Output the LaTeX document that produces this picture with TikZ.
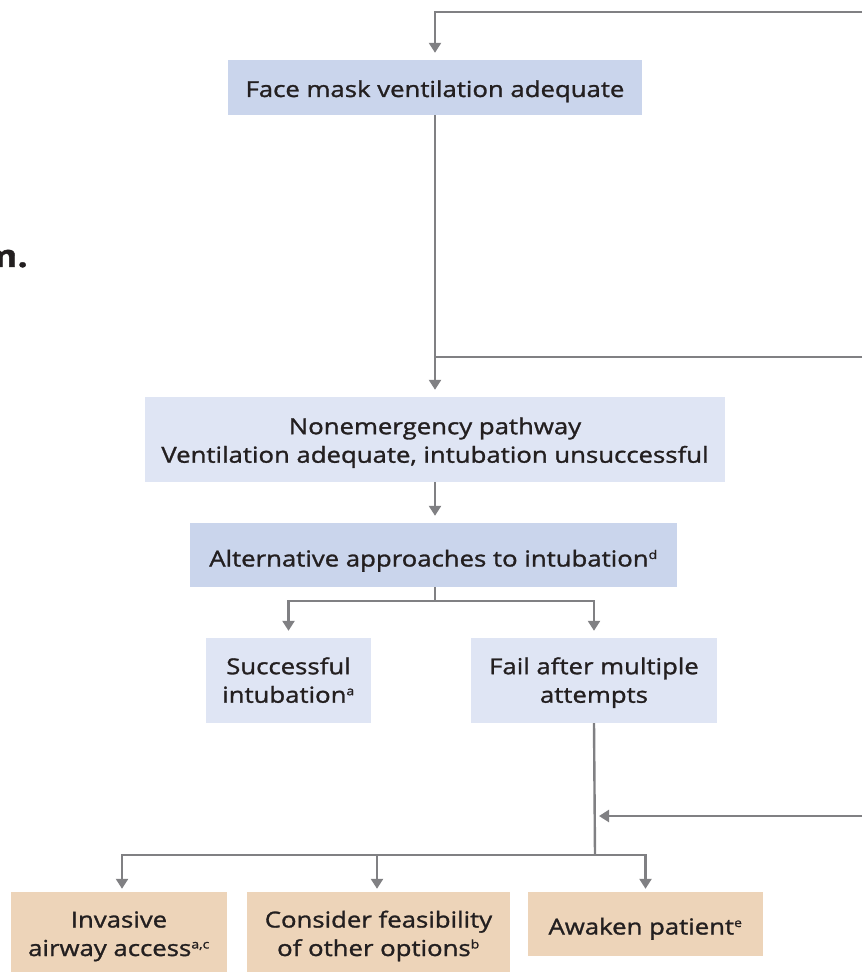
\documentclass[tikz,border=0pt]{standalone}
\usepackage{fontspec}
\setmainfont{Open Sans}[FakeStretch=1.17,FakeBold=1.3]
\usetikzlibrary{arrows.meta}
\definecolor{blueA}{HTML}{CAD5EC}
\definecolor{blueB}{HTML}{DFE5F4}
\definecolor{tanA}{HTML}{EDD4B9}
\definecolor{lineG}{HTML}{808083}
\definecolor{txt}{HTML}{231F20}
\tikzset{
  x=1pt, y=-1pt,
  box/.style={inner sep=0pt, align=center, text=txt,
    font=\fontsize{22}{28.5}\selectfont},
  bdark/.style={box, fill=blueA},
  blight/.style={box, fill=blueB},
  btan/.style={box, fill=tanA},
  conn/.style={draw=lineG, line width=2.4pt},
  arr/.style={conn, -{Triangle[width=12pt,length=10pt]}, shorten >=7pt},
}
\newcommand{\sps}[1]{\textsuperscript{\fontsize{12}{12}\selectfont #1}}
\begin{document}
\begin{tikzpicture}
\useasboundingbox (0,0) rectangle (862,973);
% cropped title fragment
\node[anchor=base east, inner sep=0pt, text=txt, font=\fontsize{31}{31}\selectfont\bfseries] (ttl) at (28,267) {m.};

% boxes
\node[bdark, minimum width=414pt, minimum height=55pt, text height=19pt, text depth=0pt] (b1) at (435,87.5) {Face mask ventilation adequate};
\node[blight, minimum width=580pt, minimum height=85pt, text height=46.4pt, text depth=0pt] (b2) at (435,439.5) {Nonemergency pathway\\Ventilation adequate, intubation unsuccessful};
\node[bdark, minimum width=487pt, minimum height=64pt, text height=23pt, text depth=0pt] (b3) at (433.5,555) {Alternative approaches to intubation\sps{d}};
\node[blight, minimum width=165pt, minimum height=85pt, text height=44.4pt, text depth=0pt] (b4) at (288.5,680.5) {Successful\\intubation\sps{a}};
\node[blight, minimum width=246pt, minimum height=85pt, text height=44.4pt, text depth=0pt] (b5) at (594,680.5) {Fail after multiple\\attempts};
\node[btan, minimum width=216pt, minimum height=80pt, text height=48pt, text depth=0pt] (b6) at (119,932) {Invasive\\airway access\sps{a,c}};
\node[btan, minimum width=263pt, minimum height=80pt, text height=48pt, text depth=0pt] (b7) at (378.5,932) {Consider feasibility\\of other options\sps{b}};
\node[btan, minimum width=235pt, minimum height=64pt, text height=21pt, text depth=0pt] (b8) at (645.5,924) {Awaken patient\sps{e}};

% coordinates
\coordinate (tr) at (862,12);
\coordinate (r1) at (862,357);
\coordinate (j1) at (435,357);
\coordinate (s1) at (435,601);
\coordinate (s2) at (595,855);
\coordinate (r2) at (862,816);
\coordinate (j2) at (595,816);

% connectors
\draw[arr] (tr) -| (b1.north);
\draw[arr] (b1.south) -- (b2.north);
\draw[conn] (r1) -- (j1);
\draw[arr] (b2.south) -- (b2.south |- b3.north);
\draw[conn] (s1 |- b3.south) -- (s1);
\draw[arr] (s1) -| (b4.north);
\draw[arr] (s1) -| (b5.north);
\draw[conn] (b5.south) -- (s2);
\draw[arr, shorten >=4pt] (r2) -- (j2);
\draw[arr, shorten >=3pt] (s2) -| ([xshift=3pt]b6.north);
\draw[arr, shorten >=3pt] (s2) -| ([xshift=-1.5pt]b7.north);
\draw[arr, shorten >=3pt] (s2) -| (b8.north);
\end{tikzpicture}
\end{document}
